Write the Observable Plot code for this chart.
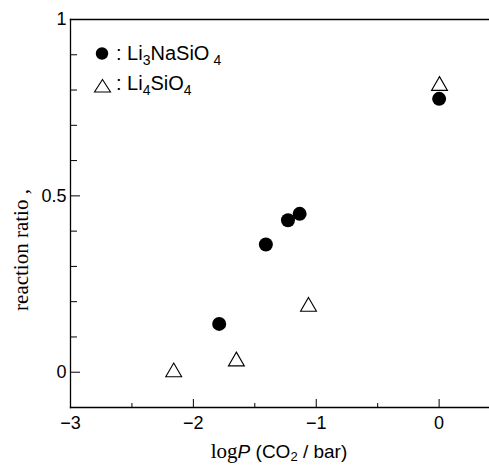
<!DOCTYPE html>
<html>
<head>
<meta charset="utf-8">
<script src="https://cdn.jsdelivr.net/npm/d3@7"></script>
<script src="https://cdn.jsdelivr.net/npm/@observablehq/plot@0.6"></script>
<style>
  html, body { margin: 0; padding: 0; background: #fff; }
  #wrap { position: relative; width: 489px; height: 465px; }
  #overlay { position: absolute; left: 0; top: 0; pointer-events: none; }
</style>
</head>
<body>
<div id="wrap">
  <div id="chart"></div>
  <svg id="overlay" width="489" height="465" font-family="'Liberation Sans', Arial, sans-serif" fill="#000">
    <!-- legend -->
    <circle cx="102" cy="53.5" r="6.2" fill="#000"/>
    <text x="116" y="60" font-size="20">: Li<tspan font-size="14" dy="5">3</tspan><tspan dy="-5">NaSiO</tspan><tspan font-size="14" dy="5" dx="4">4</tspan></text>
    <path d="M102.5,79.5 L110.5,92 L94.5,92 Z" fill="#fff" stroke="#000" stroke-width="1.1"/>
    <text x="116" y="90" font-size="20">: Li<tspan font-size="14" dy="5">4</tspan><tspan dy="-5">SiO</tspan><tspan font-size="14" dy="5">4</tspan></text>
    <!-- axis labels -->
    <text transform="translate(28,250) rotate(-90)" text-anchor="middle" font-family="'Liberation Serif', 'Times New Roman', serif" font-size="21">reaction ratio ,</text>
    <text x="279" y="458" text-anchor="middle" font-size="19"><tspan font-family="'Liberation Serif', 'Times New Roman', serif" font-size="21">log</tspan><tspan font-style="italic">P</tspan> (CO<tspan font-size="13" dy="3">2</tspan><tspan dy="-3"> / bar)</tspan></text>
  </svg>
</div>
<script>
// Li3NaSiO4 (filled circles)
const naX = [-1.79, -1.41, -1.23, -1.135, 0.0];
const naY = [0.137, 0.362, 0.431, 0.449, 0.775];
// Li4SiO4 (open triangles)
const liX = [-2.16, -1.65, -1.063, 0.003];
const liY = [0.0, 0.031, 0.186, 0.812];

const xMajor = [-3, -2, -1, 0];
const xMinor = [-2.5, -1.5, -0.5];
const yMajor = [0, 0.5, 1];
const yMinor = [0.1, 0.2, 0.3, 0.4, 0.6, 0.7, 0.8, 0.9];

const na = naX.map((x, i) => ({x, y: naY[i]}));
const li = liX.map((x, i) => ({x, y: liY[i]}));

const chart = Plot.plot({
  width: 489,
  height: 465,
  marginLeft: 70,
  marginRight: 0,
  marginTop: 19,
  marginBottom: 58,
  style: {fontFamily: "'Liberation Sans', Arial, sans-serif", fontSize: "18px", color: "#000", background: "#fff"},
  x: {domain: [-3, 0.41]},
  y: {domain: [-0.1, 1]},
  marks: [
    Plot.frame({anchor: "top", stroke: "#000", strokeWidth: 1.3}),
    Plot.frame({anchor: "bottom", stroke: "#000", strokeWidth: 1.3}),
    Plot.frame({anchor: "left", stroke: "#000", strokeWidth: 1.3}),
    Plot.axisX(xMajor, {tickSize: -8, tickPadding: 17, tickFormat: d => d < 0 ? "\u2212" + Math.abs(d) : String(d), label: null, fontSize: 18}),
    Plot.axisX(xMinor, {tickSize: -4, tickFormat: () => "", label: null}),
    Plot.axisY(yMajor, {tickSize: -10, tickPadding: 14, tickFormat: d => String(d), label: null, fontSize: 18}),
    Plot.axisY(yMinor, {tickSize: -7, tickFormat: () => "", label: null}),
    Plot.dot(li, {x: "x", y: "y", symbol: "triangle", r: 5.9, fill: "#fff", stroke: "#000", strokeWidth: 1.1}),
    Plot.dot(na, {x: "x", y: "y", r: 7, fill: "#000", stroke: "none"})
  ]
});
document.getElementById("chart").appendChild(chart);
</script>
</body>
</html>
